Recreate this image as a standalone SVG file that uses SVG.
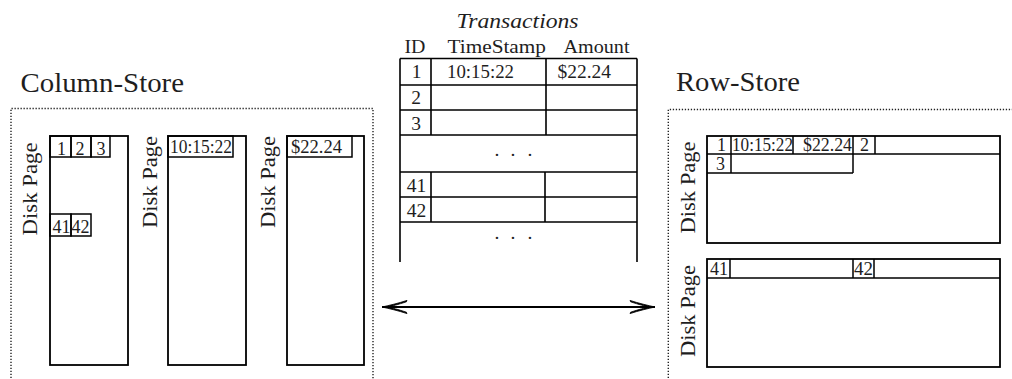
<svg xmlns="http://www.w3.org/2000/svg" width="1012" height="379" viewBox="0 0 1012 379">
  <style>
    text { font-family: "Liberation Serif", "Times New Roman", Times, "Nimbus Roman", "TeX Gyre Termes", FreeSerif, "DejaVu Serif", serif; fill: #1e1e1e; }
    .title { font-size: 27px; }
    .label { font-size: 21px; text-anchor: middle; }
    .cell { font-size: 18px; }
    .tcell { font-size: 19.5px; }
    .head { font-size: 19px; }
    .mid { text-anchor: middle; }
    .page { fill: #fff; stroke: #000; stroke-width: 1.8; }
    .box { fill: none; stroke: #000; stroke-width: 1.5; }
    .grid { fill: none; stroke: #000; stroke-width: 1.6; }
    .dotted { fill: none; stroke: #222; stroke-width: 1.4; stroke-dasharray: 1.3 1.7; }
    .link { fill: none; stroke: #000; stroke-width: 2; }
  </style>
  <defs>
    <marker id="barb" viewBox="-26 -8 28 16" refX="0" refY="0" markerWidth="28" markerHeight="16" markerUnits="userSpaceOnUse" orient="auto-start-reverse">
      <path d="M0,0 C-7,-1.6 -16,-3.6 -25,-6.6 L-24.4,-5.2 C-16,-2.4 -10,-0.9 -6,0 C-10,0.9 -16,2.4 -24.4,5.2 L-25,6.6 C-16,3.6 -7,1.6 0,0 Z" fill="#000" stroke="#000" stroke-width="0.8" stroke-linejoin="round"/>
    </marker>
  </defs>
  <rect width="1012" height="379" fill="#fff"/>

  <!-- Column-store side -->
  <g id="column-store">
    <text class="title" x="20.5" y="91.7" textLength="163.5" lengthAdjust="spacingAndGlyphs">Column-Store</text>
    <path class="dotted" d="M11,381 V108.5 H373 V381"/>
  </g>

  <g id="col-page-id">
    <rect class="page" x="50" y="136" width="78" height="229"/>
    <rect class="box" x="50" y="136" width="21" height="21"/>
    <rect class="box" x="71" y="136" width="20" height="21"/>
    <rect class="box" x="91" y="136" width="19" height="21"/>
    <rect class="box" x="50" y="214" width="21" height="22"/>
    <rect class="box" x="71" y="214" width="20" height="22"/>
    <text class="cell mid" x="61.5" y="155">1</text>
    <text class="cell mid" x="80" y="155">2</text>
    <text class="cell mid" x="101" y="155">3</text>
    <text class="cell mid" x="61.5" y="233">41</text>
    <text class="cell mid" x="80.5" y="233">42</text>
    <text class="label" transform="translate(36.7,189) rotate(-90)" textLength="93" lengthAdjust="spacingAndGlyphs">Disk Page</text>
  </g>

  <g id="col-page-time">
    <rect class="page" x="168" y="136" width="78" height="229"/>
    <rect class="box" x="168" y="136" width="65" height="21"/>
    <text class="cell" x="170" y="152.5" textLength="62" lengthAdjust="spacingAndGlyphs">10:15:22</text>
    <text class="label" transform="translate(156.7,182) rotate(-90)" textLength="92" lengthAdjust="spacingAndGlyphs">Disk Page</text>
  </g>

  <g id="col-page-amount">
    <rect class="page" x="287" y="136" width="77" height="229"/>
    <rect class="box" x="287" y="136" width="65" height="21"/>
    <text class="cell" x="291" y="152.5" textLength="51" lengthAdjust="spacingAndGlyphs">$22.24</text>
    <text class="label" transform="translate(275,182) rotate(-90)" textLength="92" lengthAdjust="spacingAndGlyphs">Disk Page</text>
  </g>

  <!-- Logical table -->
  <g id="transactions">
    <text x="517.5" y="27.5" class="mid" font-style="italic" font-size="20" textLength="122" lengthAdjust="spacingAndGlyphs">Transactions</text>
    <text class="head" x="404.5" y="53" textLength="21" lengthAdjust="spacingAndGlyphs">ID</text>
    <text class="head" x="447.5" y="53" textLength="98.5" lengthAdjust="spacingAndGlyphs">TimeStamp</text>
    <text class="head" x="563.5" y="53" textLength="66" lengthAdjust="spacingAndGlyphs">Amount</text>
    <path class="grid" d="M400,58.5 V262 M637,58.5 V262
      M400,58.5 H637 M400,85 H637 M400,110 H637 M400,135 H637
      M400,172 H637 M400,197 H637 M400,222 H637
      M431,58.5 V135 M546,58.5 V135 M431,172 V222 M545,172 V222"/>
    <text class="tcell mid" x="416.5" y="77.5">1</text>
    <text class="tcell" x="447" y="77.5" textLength="67" lengthAdjust="spacingAndGlyphs">10:15:22</text>
    <text class="tcell" x="557.5" y="77.5" textLength="53.5" lengthAdjust="spacingAndGlyphs">$22.24</text>
    <text class="tcell mid" x="416" y="104">2</text>
    <text class="tcell mid" x="416" y="129.5">3</text>
    <text class="tcell" x="494.6 500 510.6 516 527.6" y="156">. . .</text>
    <text class="tcell mid" x="416.5" y="192">41</text>
    <text class="tcell mid" x="416.5" y="217">42</text>
    <text class="tcell" x="494.6 500 510.6 516 527.6" y="239">. . .</text>
  </g>

  <!-- Row-store side -->
  <g id="row-store">
    <text class="title" x="676" y="90.5" textLength="124" lengthAdjust="spacingAndGlyphs">Row-Store</text>
    <path class="dotted" d="M668.3,381 V109.5 H1014"/>
  </g>

  <g id="row-page-1">
    <rect class="page" x="707" y="136" width="293" height="107"/>
    <path class="box" d="M707,154 H1000 M731,136 V173 M793,136 V154 M853,136 V173 M875,136 V154 M707,173 H853"/>
    <text class="cell mid" x="721.5" y="151">1</text>
    <text class="cell" x="732" y="151" textLength="61" lengthAdjust="spacingAndGlyphs">10:15:22</text>
    <text class="cell" x="803" y="151" textLength="49" lengthAdjust="spacingAndGlyphs">$22.24</text>
    <text class="cell mid" x="864.5" y="151">2</text>
    <text class="cell mid" x="720.5" y="170">3</text>
    <text class="label" transform="translate(695,187.5) rotate(-90)" textLength="92" lengthAdjust="spacingAndGlyphs">Disk Page</text>
  </g>

  <g id="row-page-2">
    <rect class="page" x="707" y="259" width="293" height="108"/>
    <path class="box" d="M707,278 H1000 M730,259 V278 M853,259 V278 M874,259 V278"/>
    <text class="cell" x="710" y="275" textLength="18" lengthAdjust="spacingAndGlyphs">41</text>
    <text class="cell" x="854" y="275" textLength="19" lengthAdjust="spacingAndGlyphs">42</text>
    <text class="label" transform="translate(695,311) rotate(-90)" textLength="92" lengthAdjust="spacingAndGlyphs">Disk Page</text>
  </g>

  <!-- Connectors -->
  <g id="connectors">
    <path class="link" d="M382,307 H655" marker-start="url(#barb)" marker-end="url(#barb)"/>
  </g>
</svg>
